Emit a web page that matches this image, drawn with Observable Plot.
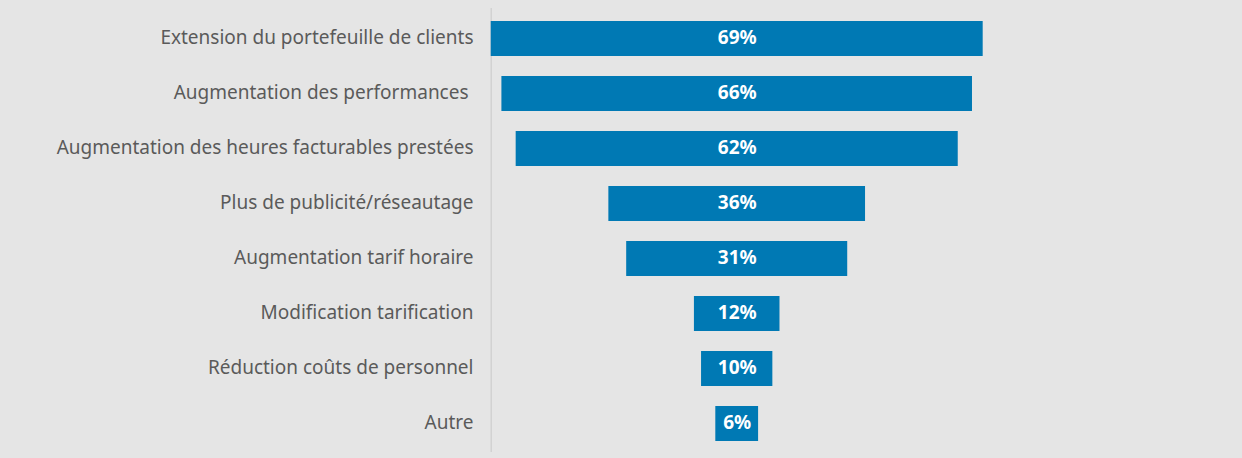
<!DOCTYPE html>
<html>
<head>
<meta charset="utf-8">
<script src="https://cdn.jsdelivr.net/npm/d3@7"></script>
<script src="https://cdn.jsdelivr.net/npm/@observablehq/plot@0.6"></script>
<style>
  html, body { margin: 0; padding: 0; background: #e5e5e5; }
  svg text { white-space: pre; }
</style>
</head>
<body>
<div id="chart"></div>
<script>
const categories = [
  "Extension du portefeuille de clients",
  "Augmentation des performances ",
  "Augmentation des heures facturables prestées",
  "Plus de publicité/réseautage",
  "Augmentation tarif horaire",
  "Modification tarification",
  "Réduction coûts de personnel",
  "Autre"
];
const values = [69, 66, 62, 36, 31, 12, 10, 6];
const valueLabels = ["69%", "66%", "62%", "36%", "31%", "12%", "10%", "6%"];

const data = categories.map((c, i) => ({cat: c, value: values[i], label: valueLabels[i]}));

const W = 1242, H = 458;
const center = 736.7, pxPer = 7.13, half = 34.5;

const chart = Plot.plot({
  width: W,
  height: H,
  marginLeft: 491,
  marginRight: W - (center + half * pxPer),
  marginTop: 0,
  marginBottom: 0,
  style: {background: "#e5e5e5", fontFamily: "'Noto Sans', sans-serif"},
  x: {domain: [-half, half], range: [center - half * pxPer, center + half * pxPer], axis: null},
  y: {domain: categories, range: [-0.13, 461.1], padding: 0.365, label: null},
  marks: [
    Plot.ruleX([-half], {stroke: "#d2d2d2", strokeWidth: 1.5, insetTop: 8, insetBottom: 6}),
    Plot.barX(data, {x1: d => -d.value / 2, x2: d => d.value / 2, y: "cat", fill: "#0079b4"}),
    Plot.text(data, {x: 0, y: "cat", text: "label", fill: "white", fontWeight: "bold", fontSize: 19, dy: -1.5}),
    Plot.axisY({tickSize: 0, tickPadding: 18, fontSize: 19, fill: "#5a5a5a", label: null, dy: -1})
  ]
});
document.getElementById("chart").appendChild(chart);
</script>
</body>
</html>
